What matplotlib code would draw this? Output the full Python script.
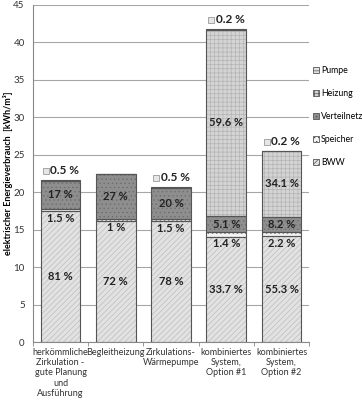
import matplotlib.pyplot as plt
from matplotlib.patches import Patch
import numpy as np

plt.rcParams.update({
    'font.family': ['Lato', 'DejaVu Sans'],
    'font.size': 6.5,
    'hatch.linewidth': 0.5,
})

# ------------------------------------------------------------
# data
# ------------------------------------------------------------
categories = ['herkömmliche\nZirkulation -\ngute Planung\nund\nAusführung',
              'Begleitheizung',
              'Zirkulations-\nWärmepumpe',
              'kombiniertes\nSystem,\nOption #1',
              'kombiniertes\nSystem,\nOption #2']
totals = [21.6, 22.5, 20.7, 41.8, 25.5]          # kWh/m3

# shares in % (stack order bottom -> top)
pct_bww = [81, 72, 78, 33.7, 55.3]
pct_speicher = [1.5, 1, 1.5, 1.4, 2.2]
pct_verteilnetz = [17, 27, 20, 5.1, 8.2]
pct_heizung = [0, 0, 0, 59.6, 34.1]
pct_pumpe = [0.5, 0, 0.5, 0.2, 0.2]

lbl_bww = ['81 %', '72 %', '78 %', '33.7 %', '55.3 %']
lbl_speicher = ['1.5 %', '1 %', '1.5 %', '1.4 %', '2.2 %']
lbl_verteilnetz = ['17 %', '27 %', '20 %', '5.1 %', '8.2 %']
lbl_heizung = ['', '', '', '59.6 %', '34.1 %']
lbl_pumpe = ['0.5 %', '', '0.5 %', '0.2 %', '0.2 %']

# ------------------------------------------------------------
fig = plt.figure(figsize=(3.62, 4.0), dpi=100)
ax = fig.add_axes([0.091, 0.145, 0.763, 0.8425])

x = np.arange(len(categories))
w = 0.72
tot = np.array(totals)

series = [
    ('BWW', pct_bww, '#e2e2e2', '#bdbdbd', '//////'),
    ('Speicher', pct_speicher, '#f4f4f4', '#8a8a8a', '....'),
    ('Verteilnetz', pct_verteilnetz, '#8e8e8e', '#6e6e6e', '....'),
    ('Heizung', pct_heizung, '#d4d4d4', '#b4b4b4', '++++'),
    ('Pumpe', pct_pumpe, '#e0e0e0', '#b0b0b0', '++'),
]

bottom = np.zeros(len(x))
segs = {}
for name, pct, fc, hc, hatch in series:
    vals = tot * np.array(pct) / 100.0
    ax.bar(x, vals, w, bottom=bottom, color=fc, edgecolor=hc, hatch=hatch,
           linewidth=0, zorder=2)
    ax.bar(x, vals, w, bottom=bottom, fill=False, edgecolor='#555555',
           linewidth=0.8, zorder=3)
    segs[name] = (bottom.copy(), vals)
    bottom = bottom + vals

txt = dict(ha='center', va='center', fontsize=8, color='#222222',
           fontweight='bold', zorder=5)

# BWW labels in the middle of the segment
b, v = segs['BWW']
for i in x:
    ax.text(i, b[i] + v[i] * 0.5, lbl_bww[i], **txt)

# Speicher labels just below the thin segment
b, v = segs['Speicher']
for i in x:
    ax.text(i, b[i] - 0.95, lbl_speicher[i], **txt)

b, v = segs['Verteilnetz']
for i in x:
    ax.text(i, b[i] + v[i] * 0.5, lbl_verteilnetz[i], **txt)

b, v = segs['Heizung']
for i in x:
    if lbl_heizung[i]:
        ax.text(i, b[i] + v[i] * 0.5, lbl_heizung[i], **txt)

# Pumpe labels above the bars with a small key square
for i in x:
    if lbl_pumpe[i]:
        yy = bottom[i] + 1.25
        ax.plot(i - 0.27, yy, marker='s', ms=4.5, mfc='#e6e6e6',
                mec='#999999', mew=0.6, zorder=5, clip_on=False)
        ax.text(i - 0.19, yy, lbl_pumpe[i], ha='left', va='center',
                fontsize=8.5, fontweight='bold', color='#222222', zorder=5)

ax.set_xlim(-0.5, 4.5)
ax.set_ylim(0, 45)
ax.set_yticks(np.arange(0, 46, 5))
ax.yaxis.grid(True, color='#a6a6a6', linewidth=0.8, zorder=0)
ax.set_axisbelow(True)
ax.set_xticks(x)
ax.set_xticklabels(categories, fontsize=6.5, color='#333333', linespacing=1.2)
ax.set_xticks(np.arange(-0.5, 4.6, 1), minor=True)
ax.tick_params(axis='x', which='major', length=0, pad=4)
ax.tick_params(axis='x', which='minor', length=3, color='#888888')
ax.tick_params(axis='y', length=0, labelsize=7, labelcolor='#333333', pad=6)
for s in ['top', 'right']:
    ax.spines[s].set_visible(False)
ax.spines['left'].set_color('#888888')
ax.spines['bottom'].set_color('#888888')
ax.set_ylabel('elektrischer Energieverbrauch  [kWh/m³]', fontsize=6.5,
              fontweight='bold')
ax.yaxis.set_label_coords(-0.072, 0.5)

# legend on the right
handles = []
for name, pct, fc, hc, hatch in reversed(series):
    handles.append(Patch(facecolor=fc, edgecolor='#555555', hatch=hatch,
                         linewidth=0.6, label=name))
ax.legend(handles=handles, loc='upper left', bbox_to_anchor=(1.0, 0.83),
          frameon=False, fontsize=6.3, handlelength=0.7, handleheight=0.7,
          handletextpad=0.25, labelspacing=1.6, borderaxespad=0)

fig.savefig('out.png', dpi=100)
